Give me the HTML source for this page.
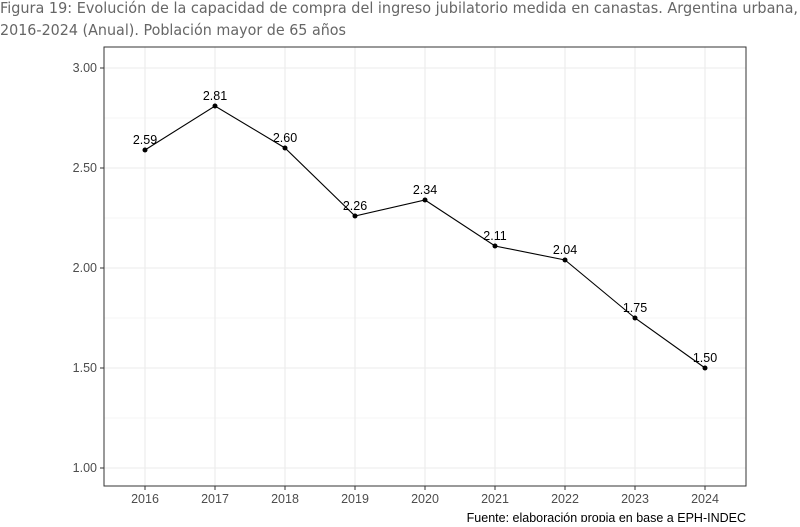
<!DOCTYPE html>
<html><head><meta charset="utf-8"><style>
body{margin:0;background:#fff;width:800px;height:522px;overflow:hidden}
</style></head><body>
<svg width="800" height="522" xmlns="http://www.w3.org/2000/svg" font-family="Liberation Sans, sans-serif">
<text x="0" y="13" font-family="DejaVu Sans, sans-serif" font-size="15" fill="#666" textLength="798" lengthAdjust="spacingAndGlyphs">Figura 19: Evolución de la capacidad de compra del ingreso jubilatorio medida en canastas. Argentina urbana,</text>
<text x="0" y="35" font-family="DejaVu Sans, sans-serif" font-size="15" fill="#666" textLength="346" lengthAdjust="spacingAndGlyphs">2016-2024 (Anual). Población mayor de 65 años</text>
<g stroke="#ebebeb" stroke-width="0.6">
<line x1="104" x2="746" y1="118" y2="118"/><line x1="104" x2="746" y1="218" y2="218"/><line x1="104" x2="746" y1="318" y2="318"/><line x1="104" x2="746" y1="418" y2="418"/>
</g>
<g stroke="#ebebeb" stroke-width="1.1">
<line x1="104" x2="746" y1="68" y2="68"/><line x1="104" x2="746" y1="168" y2="168"/><line x1="104" x2="746" y1="268" y2="268"/><line x1="104" x2="746" y1="368" y2="368"/><line x1="104" x2="746" y1="468" y2="468"/>
<line x1="145" x2="145" y1="47" y2="486"/><line x1="215" x2="215" y1="47" y2="486"/><line x1="285" x2="285" y1="47" y2="486"/><line x1="355" x2="355" y1="47" y2="486"/><line x1="425" x2="425" y1="47" y2="486"/><line x1="495" x2="495" y1="47" y2="486"/><line x1="565" x2="565" y1="47" y2="486"/><line x1="635" x2="635" y1="47" y2="486"/><line x1="705" x2="705" y1="47" y2="486"/>
</g>
<rect x="104" y="47" width="642" height="439" fill="none" stroke="#333" stroke-width="1"/>
<g stroke="#333" stroke-width="1">
<line x1="100" x2="104" y1="68" y2="68"/><line x1="100" x2="104" y1="168" y2="168"/><line x1="100" x2="104" y1="268" y2="268"/><line x1="100" x2="104" y1="368" y2="368"/><line x1="100" x2="104" y1="468" y2="468"/>
<line x1="145" x2="145" y1="486" y2="490"/><line x1="215" x2="215" y1="486" y2="490"/><line x1="285" x2="285" y1="486" y2="490"/><line x1="355" x2="355" y1="486" y2="490"/><line x1="425" x2="425" y1="486" y2="490"/><line x1="495" x2="495" y1="486" y2="490"/><line x1="565" x2="565" y1="486" y2="490"/><line x1="635" x2="635" y1="486" y2="490"/><line x1="705" x2="705" y1="486" y2="490"/>
</g>
<g font-size="12.5" fill="#4d4d4d" text-anchor="end">
<text x="97" y="72">3.00</text><text x="97" y="172">2.50</text><text x="97" y="272">2.00</text><text x="97" y="372">1.50</text><text x="97" y="472">1.00</text>
</g>
<g font-size="12.5" fill="#4d4d4d" text-anchor="middle">
<text x="145" y="503">2016</text><text x="215" y="503">2017</text><text x="285" y="503">2018</text><text x="355" y="503">2019</text><text x="425" y="503">2020</text><text x="495" y="503">2021</text><text x="565" y="503">2022</text><text x="635" y="503">2023</text><text x="705" y="503">2024</text>
</g>
<polyline fill="none" stroke="#000" stroke-width="1.1" points="145,150 215,106 285,148 355,216 425,200 495,246 565,260 635,318 705,368"/>
<g fill="#000">
<circle cx="145" cy="150" r="2.5"/><circle cx="215" cy="106" r="2.5"/><circle cx="285" cy="148" r="2.5"/><circle cx="355" cy="216" r="2.5"/><circle cx="425" cy="200" r="2.5"/><circle cx="495" cy="246" r="2.5"/><circle cx="565" cy="260" r="2.5"/><circle cx="635" cy="318" r="2.5"/><circle cx="705" cy="368" r="2.5"/>
</g>
<g font-size="12.5" fill="#000" text-anchor="middle">
<text x="145" y="144">2.59</text><text x="215" y="100">2.81</text><text x="285" y="142">2.60</text><text x="355" y="210">2.26</text><text x="425" y="194">2.34</text><text x="495" y="240">2.11</text><text x="565" y="254">2.04</text><text x="635" y="312">1.75</text><text x="705" y="362">1.50</text>
</g>
<text x="746" y="522" font-size="12.5" fill="#000" text-anchor="end">Fuente: elaboración propia en base a EPH-INDEC</text>
</svg>
</body></html>
